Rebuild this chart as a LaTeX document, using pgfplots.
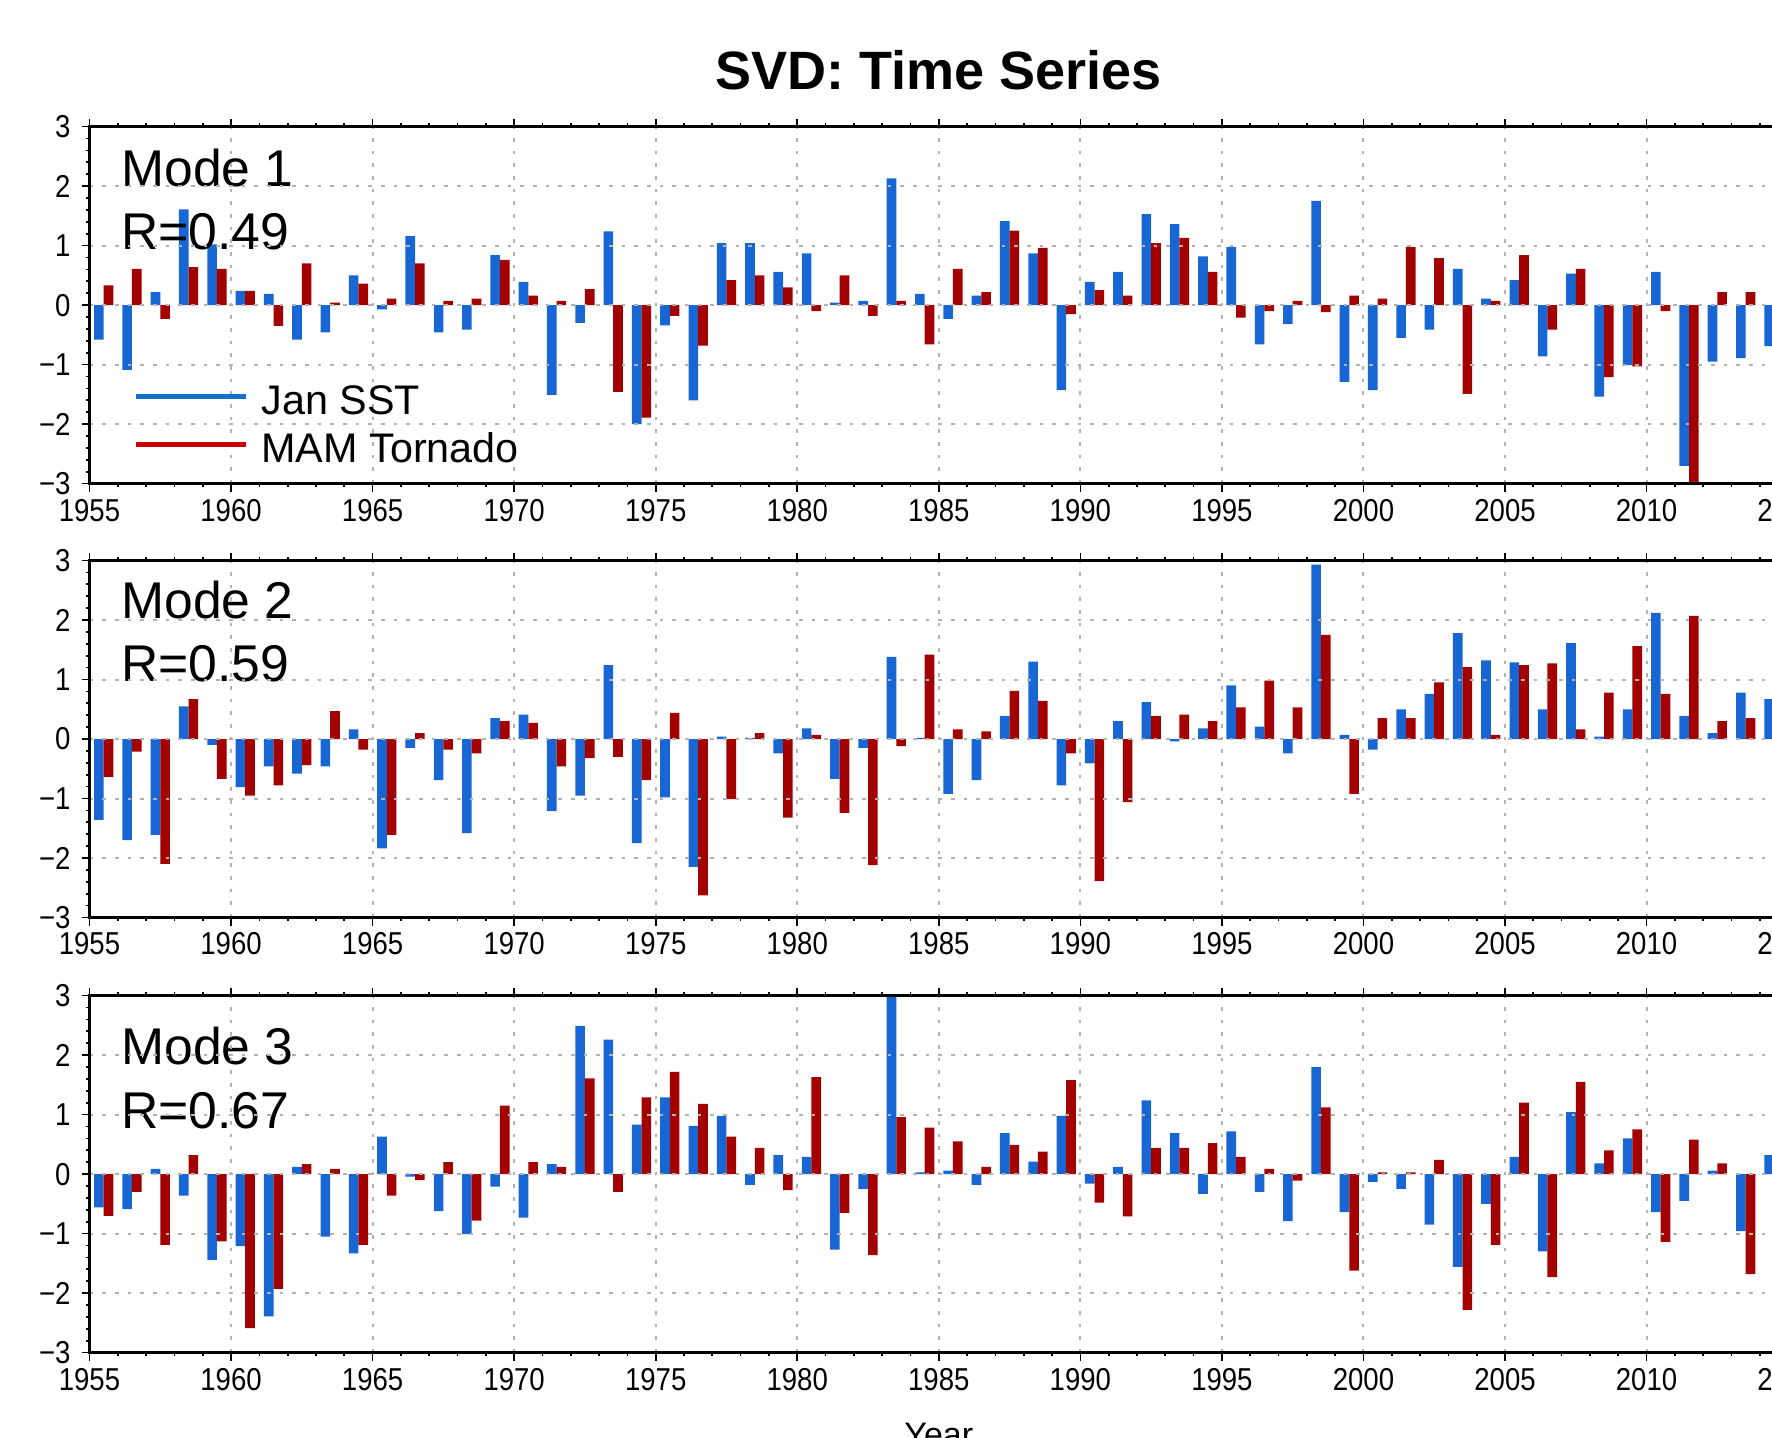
\documentclass[border=0pt]{standalone}
\usepackage{fontspec}
\setmainfont{Liberation Sans}
\newfontfamily\tickfont{Liberation Sans}[FakeStretch=0.87]
\usepackage{pgfplots}
\usepackage{pgfplotstable}
\pgfplotsset{compat=1.18}
\definecolor{barblue}{RGB}{23,102,212}
\definecolor{barred}{RGB}{163,0,0}
\definecolor{legblue}{RGB}{16,112,200}
\definecolor{legred}{RGB}{200,0,0}
\definecolor{gridgray}{RGB}{178,178,178}

\pgfplotstableread{
year b r
1955 -0.58 0.33
1956 -1.09 0.61
1957 0.22 -0.23
1958 1.61 0.64
1959 1.02 0.61
1960 0.24 0.24
1961 0.19 -0.35
1962 -0.58 0.70
1963 -0.46 0.04
1964 0.50 0.36
1965 -0.07 0.11
1966 1.16 0.70
1967 -0.46 0.07
1968 -0.41 0.11
1969 0.84 0.76
1970 0.39 0.16
1971 -1.51 0.07
1972 -0.30 0.27
1973 1.24 -1.46
1974 -2.00 -1.89
1975 -0.34 -0.18
1976 -1.60 -0.68
1977 1.04 0.42
1978 1.04 0.50
1979 0.56 0.30
1980 0.87 -0.10
1981 0.04 0.50
1982 0.07 -0.18
1983 2.13 0.07
1984 0.19 -0.66
1985 -0.23 0.61
1986 0.16 0.22
1987 1.41 1.25
1988 0.87 0.96
1989 -1.43 -0.15
1990 0.39 0.25
1991 0.56 0.16
1992 1.53 1.04
1993 1.36 1.13
1994 0.82 0.56
1995 0.98 -0.21
1996 -0.66 -0.10
1997 -0.32 0.07
1998 1.75 -0.12
1999 -1.29 0.16
2000 -1.43 0.11
2001 -0.55 0.98
2002 -0.41 0.79
2003 0.61 -1.49
2004 0.11 0.07
2005 0.42 0.84
2006 -0.86 -0.41
2007 0.53 0.61
2008 -1.54 -1.21
2009 -1.01 -1.03
2010 0.56 -0.10
2011 -2.70 -3.20
2012 -0.95 0.22
2013 -0.89 0.22
2014 -0.69 0.30
}\modeone

\pgfplotstableread{
year b r
1955 -1.36 -0.64
1956 -1.70 -0.21
1957 -1.61 -2.10
1958 0.55 0.67
1959 -0.10 -0.67
1960 -0.81 -0.95
1961 -0.46 -0.78
1962 -0.58 -0.44
1963 -0.46 0.47
1964 0.16 -0.18
1965 -1.84 -1.61
1966 -0.15 0.10
1967 -0.69 -0.18
1968 -1.58 -0.24
1969 0.35 0.30
1970 0.41 0.27
1971 -1.21 -0.46
1972 -0.95 -0.32
1973 1.24 -0.30
1974 -1.75 -0.69
1975 -0.98 0.44
1976 -2.15 -2.63
1977 0.04 -1.01
1978 0.02 0.10
1979 -0.24 -1.32
1980 0.18 0.07
1981 -0.67 -1.24
1982 -0.15 -2.12
1983 1.38 -0.12
1984 0.02 1.42
1985 -0.92 0.16
1986 -0.69 0.13
1987 0.39 0.81
1988 1.30 0.64
1989 -0.78 -0.24
1990 -0.41 -2.39
1991 0.30 -1.06
1992 0.62 0.39
1993 -0.04 0.41
1994 0.18 0.30
1995 0.90 0.53
1996 0.21 0.98
1997 -0.24 0.53
1998 2.93 1.75
1999 0.07 -0.92
2000 -0.18 0.35
2001 0.50 0.35
2002 0.76 0.95
2003 1.78 1.21
2004 1.32 0.07
2005 1.29 1.24
2006 0.50 1.27
2007 1.61 0.16
2008 0.04 0.78
2009 0.50 1.56
2010 2.12 0.76
2011 0.39 2.07
2012 0.10 0.30
2013 0.78 0.35
2014 0.67 0.30
}\modetwo

\pgfplotstableread{
year b r
1955 -0.56 -0.70
1956 -0.59 -0.30
1957 0.09 -1.19
1958 -0.36 0.32
1959 -1.44 -1.13
1960 -1.21 -2.59
1961 -2.39 -1.93
1962 0.12 0.17
1963 -1.05 0.09
1964 -1.33 -1.19
1965 0.63 -0.36
1966 -0.04 -0.10
1967 -0.62 0.20
1968 -1.01 -0.78
1969 -0.21 1.15
1970 -0.73 0.20
1971 0.17 0.12
1972 2.49 1.61
1973 2.26 -0.30
1974 0.83 1.29
1975 1.29 1.72
1976 0.81 1.18
1977 0.98 0.63
1978 -0.18 0.44
1979 0.32 -0.27
1980 0.29 1.63
1981 -1.27 -0.65
1982 -0.25 -1.36
1983 3.10 0.96
1984 0.03 0.78
1985 0.06 0.55
1986 -0.18 0.12
1987 0.69 0.49
1988 0.21 0.38
1989 0.98 1.58
1990 -0.16 -0.48
1991 0.12 -0.71
1992 1.24 0.44
1993 0.69 0.44
1994 -0.33 0.52
1995 0.72 0.29
1996 -0.30 0.09
1997 -0.79 -0.11
1998 1.80 1.12
1999 -0.64 -1.62
2000 -0.13 0.03
2001 -0.25 0.03
2002 -0.85 0.24
2003 -1.56 -2.28
2004 -0.50 -1.19
2005 0.29 1.20
2006 -1.30 -1.73
2007 1.04 1.55
2008 0.18 0.40
2009 0.60 0.75
2010 -0.64 -1.14
2011 -0.45 0.58
2012 0.06 0.18
2013 -0.96 -1.68
2014 0.32 0.20
}\modethree

\pgfplotsset{
  svdpanel/.style={
    width=509.58pt, height=107.1pt, scale only axis,
    xmin=1955, xmax=2015, ymin=-3, ymax=3,
    xtick={1955,1960,1965,1970,1975,1980,1985,1990,1995,2000,2005,2010,2015},
    xticklabels={1955,1960,1965,1970,1975,1980,1985,1990,1995,2000,2005,2010,2015},
    ytick={-3,-2,-1,0,1,2,3},
    yticklabels={−3,−2,−1,0,1,2,3},
    minor x tick num=4, minor y tick num=4,
    tick align=outside, major tick length=2.4pt, minor tick length=1.0pt,
    every tick/.style={black, line width=0.5pt},
    axis line style={black, line width=1.0pt},
    grid=major,
    major grid style={gridgray, line width=0.6pt, dash pattern=on 1.1pt off 2.7pt},
    axis on top,
    tick label style={font=\tickfont\fontsize{9.5}{10}\selectfont, inner sep=0pt},
    xticklabel shift=2pt, yticklabel shift=3.1pt,
  },
  bluebars/.style={ybar, bar width=0.34, bar shift=0pt, fill=barblue, draw=none},
  redbars/.style={ybar, bar width=0.34, bar shift=0pt, fill=barred, draw=none},
}

\begin{document}
\begin{tikzpicture}
% Panel 1
\begin{axis}[svdpanel, at={(0pt,0pt)}, anchor=north west,
  legend style={at={(axis cs:1956.54,-1.14)}, anchor=north west, draw=none, fill=none,
    inner sep=0pt, outer sep=0pt, row sep=0pt, column sep=4pt,
    font=\fontsize{12.4}{14}\selectfont,
    nodes={inner sep=0pt, text height=12.44pt, text depth=1.84pt}},
  legend cell align=left]
\addplot[bluebars, forget plot] table[x expr=\thisrow{year}+0.33, y=b] {\modeone};
\addplot[redbars, forget plot] table[x expr=\thisrow{year}+0.67, y=r] {\modeone};
\addlegendimage{legend image code/.code={\draw[legblue, line width=1.5pt] (0pt,0pt) -- (33pt,0pt);}}
\addlegendentry{Jan SST}
\addlegendimage{legend image code/.code={\draw[legred, line width=1.5pt] (0pt,0pt) -- (33pt,0pt);}}
\addlegendentry{MAM Tornado}
\node[anchor=base west, font=\fontsize{15.5}{16}\selectfont, inner sep=0pt] at (axis cs:1956.1,2.0) {Mode 1};
\node[anchor=base west, font=\fontsize{15.5}{16}\selectfont, inner sep=0pt] at (axis cs:1956.1,0.93) {R=0.49};
\end{axis}
% Panel 2
\begin{axis}[svdpanel, at={(0pt,-130.17pt)}, anchor=north west]
\addplot[bluebars] table[x expr=\thisrow{year}+0.33, y=b] {\modetwo};
\addplot[redbars] table[x expr=\thisrow{year}+0.67, y=r] {\modetwo};
\node[anchor=base west, font=\fontsize{15.5}{16}\selectfont, inner sep=0pt] at (axis cs:1956.1,2.02) {Mode 2};
\node[anchor=base west, font=\fontsize{15.5}{16}\selectfont, inner sep=0pt] at (axis cs:1956.1,0.96) {R=0.59};
\end{axis}
% Panel 3
\begin{axis}[svdpanel, at={(0pt,-260.7pt)}, anchor=north west]
\addplot[bluebars] table[x expr=\thisrow{year}+0.33, y=b] {\modethree};
\addplot[redbars] table[x expr=\thisrow{year}+0.67, y=r] {\modethree};
\node[anchor=base west, font=\fontsize{15.5}{16}\selectfont, inner sep=0pt] at (axis cs:1956.1,1.85) {Mode 3};
\node[anchor=base west, font=\fontsize{15.5}{16}\selectfont, inner sep=0pt] at (axis cs:1956.1,0.77) {R=0.67};
\end{axis}
% Title and x label
\node[anchor=base, font=\bfseries\fontsize{16.2}{18}\selectfont, inner sep=0pt] at (254.79pt,11.2pt) {SVD: Time Series};
\node[anchor=base, font=\fontsize{10.2}{12}\selectfont, inner sep=0pt] at (254.79pt,-396.1pt) {Year};
% crop like the reference
\pgfresetboundingbox
\path[use as bounding box] (-26.85pt,37.98pt) rectangle (504.75pt,-393.12pt);
\end{tikzpicture}
\end{document}
